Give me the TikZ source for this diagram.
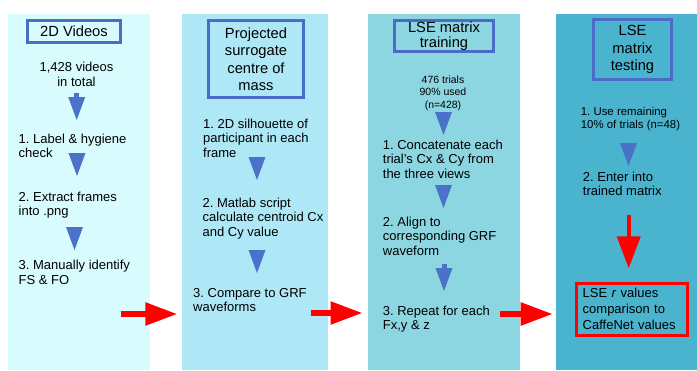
\documentclass[tikz,border=0pt]{standalone}
\usepackage{fontspec}
\setmainfont{Liberation Sans}
\usetikzlibrary{arrows.meta}
\frenchspacing

\definecolor{panelA}{HTML}{D8FBFE}
\definecolor{panelB}{HTML}{AEE8F6}
\definecolor{panelC}{HTML}{8CD6E2}
\definecolor{panelD}{HTML}{4AB3CE}
\definecolor{boxblue}{HTML}{4A6CC6}
\definecolor{triblue}{HTML}{4A72C8}
\definecolor{flowred}{HTML}{FF0000}

\begin{document}
\begin{tikzpicture}[x=1pt,y=-1pt,
  titlebox/.style={draw=boxblue, line width=3pt, align=center, inner sep=0pt,
    font=\fontsize{14.7}{17.5}\selectfont},
  % multi-line nodes are anchored at the baseline of their last line
  steptext/.style={anchor=base west, align=left, inner sep=0pt,
    font=\fontsize{13}{14.5}\selectfont},
  smalltext/.style={align=center, inner sep=0pt,
    font=\fontsize{10.5}{12.7}\selectfont},
  redflow/.style={draw=flowred, line width=5.5pt,
    -{Triangle[length=32pt,width=22pt]}},
  pics/downtri/.style={code={
    \fill[triblue] (-8.5,0) -- (8.5,0) -- (0,23) -- cycle;}},
  pics/stemtri/.style={code={
    \fill[triblue] (-2.5,-4) rectangle (2.5,0.5);
    \fill[triblue] (-8.5,0) -- (8.5,0) -- (0,23) -- cycle;}},
]
\useasboundingbox (0,0) rectangle (697,370);

% four stage panels
\fill[panelA] (8,14) rectangle (150,370);
\fill[panelB] (182,14) rectangle (328,370);
\fill[panelC] (368,14) rectangle (520,370);
\fill[panelD] (556,14) rectangle (697,370);

% ---- stage 1: 2D videos
\node[titlebox, fill=panelA, minimum width=93pt, minimum height=22.3pt] (t1) at (74,31.4) {2D Videos};
\node[anchor=base, align=center, inner sep=0pt, font=\fontsize{13}{15}\selectfont] (v1) at (76.5,86) {1,428 videos\\in total};
\pic (a1) at (76.7,97) {stemtri};
\node[steptext] (s11) at (18.5,157.5) {1. Label \& hygiene\\check};
\pic (a2) at (77,153) {downtri};
\node[steptext] (s12) at (18.5,215.5) {2. Extract frames\\into .png};
\pic (a3) at (74.5,227) {downtri};
\node[steptext] (s13) at (18.5,284) {3. Manually identify\\FS \& FO};

% ---- stage 2: projected surrogate centre of mass
\node[titlebox, fill=panelB, minimum width=95pt, minimum height=77pt] (t2) at (256,59)
  {Projected\\surrogate\\centre of\\mass};
\node[steptext] (s21) at (203,157) {1. 2D silhouette of\\participant in each\\frame};
\pic (b1) at (257,157) {downtri};
\node[steptext] (s22) at (202.5,236) {2. Matlab script\\calculate centroid Cx\\and Cy value};
\pic (b2) at (257,250) {downtri};
\node[steptext] (s23) at (193,311.5) {3. Compare to GRF\\waveforms};

% ---- stage 3: LSE matrix training
\node[titlebox, fill=panelC, minimum width=99pt, minimum height=31pt,
  font=\fontsize{14.7}{15.6}\selectfont] (t3) at (444,36) {LSE matrix\\training};
\node[smalltext, anchor=base] (n3) at (443,108.4) {476 trials\\90\% used\\(n=428)};
\pic (c1) at (443.5,112) {downtri};
\node[steptext] (s31) at (382.7,178) {1. Concatenate each\\trial's Cx \& Cy from\\the three views};
\pic (c2) at (443.5,185) {downtri};
\node[steptext] (s32) at (382.7,255) {2. Align to\\corresponding GRF\\waveform};
\pic (c3) at (444,268) {stemtri};
\node[steptext] (s33) at (382.7,329.5) {3. Repeat for each\\Fx,y \& z};

% ---- stage 4: LSE matrix testing
\node[titlebox, fill=panelD, minimum width=78.6pt, minimum height=59.7pt] (t4) at (632.5,49.7)
  {LSE\\matrix\\testing};
\node[steptext, font=\fontsize{11.4}{13}\selectfont] (s41) at (580.7,128) {1. Use remaining\\10\% of trials (n=48)};
\pic (d1) at (628.5,143) {downtri};
\node[steptext] (s42) at (582.7,195.5) {2. Enter into\\trained matrix};
\node[draw=flowred, line width=3pt, fill=panelD, align=left, text width=99pt,
  inner xsep=6.15pt, inner ysep=0pt, minimum height=52pt,
  font=\fontsize{13}{16}\selectfont] (res) at (632.2,309.2)
  {LSE \textit{r} values\\comparison to\\CaffeNet values};

% ---- flow between stages
\coordinate (o1) at (120.7,314);  \coordinate (i2) at (177.3,314);
\coordinate (o2) at (310.7,313);  \coordinate (i3) at (362.5,313);
\coordinate (o3) at (500,314);    \coordinate (i4) at (552.7,314);
\coordinate (m4) at (628.7,215);  \coordinate (r4) at (628.7,268.3);
\draw[redflow] (o1) -- (i2);
\draw[redflow] (o2) -- (i3);
\draw[redflow] (o3) -- (i4);
\draw[draw=flowred, line width=4pt, -{Triangle[length=32pt,width=23pt]}] (m4) -- (r4);
\end{tikzpicture}
\end{document}
